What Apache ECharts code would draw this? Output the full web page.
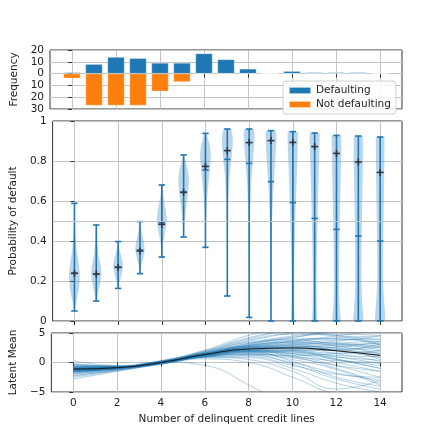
<!DOCTYPE html>
<html><head><meta charset="utf-8">
<script src="https://cdn.jsdelivr.net/npm/echarts@6/dist/echarts.min.js"></script>
<style>html,body{margin:0;padding:0;background:#fff}#c{width:440px;height:435px}</style>
</head><body><div id="c"></div>
<script>
// ---------- data ----------
const xTicks = [0, 2, 4, 6, 8, 10, 12, 14];
const barX = [0, 1, 2, 3, 4, 5, 6, 7, 8, 9, 10, 11, 12, 13, 14];
const defaulting = [1, 8, 14, 13, 9, 9, 17, 12, 4, 0, 2, 1, 1, 1, 0];
const notDefaulting = [4, 27, 27, 27, 15, 7, 0, 0, 0, 0, 0, 0, 0, 0, 0];

const violinX = [0, 1, 2, 3, 4, 5, 6, 7, 8, 9, 10, 11, 12, 13, 14];
const violinMin = [0.05, 0.10, 0.163, 0.237, 0.32, 0.42, 0.368, 0.125, 0.018, 0, 0, 0, 0, 0, 0];
const violinMax = [0.588, 0.48, 0.397, 0.497, 0.68, 0.83, 0.938, 0.96, 0.96, 0.952, 0.947, 0.94, 0.928, 0.925, 0.92];
const violinTick = [0.24, 0.235, 0.27, 0.355, 0.492, 0.645, 0.755, 0.808, 0.788, 0.697, 0.592, 0.513, 0.458, 0.425, 0.40];
const violinMean = [0.238, 0.235, 0.268, 0.35, 0.483, 0.643, 0.773, 0.852, 0.892, 0.902, 0.893, 0.872, 0.838, 0.795, 0.743];
// density profile of each violin: [probability, half-width in x units]
const violinProfiles = [
  [[0.05,0],[0.1,0.1],[0.15,0.19],[0.2,0.24],[0.24,0.25],[0.3,0.18],[0.35,0.11],[0.42,0.05],[0.5,0.02],[0.588,0]],
  [[0.10,0],[0.15,0.1],[0.2,0.2],[0.24,0.24],[0.28,0.2],[0.33,0.1],[0.4,0.04],[0.48,0]],
  [[0.163,0],[0.2,0.08],[0.24,0.18],[0.28,0.23],[0.31,0.18],[0.35,0.08],[0.397,0]],
  [[0.237,0],[0.28,0.06],[0.32,0.16],[0.36,0.22],[0.4,0.17],[0.44,0.08],[0.497,0]],
  [[0.32,0],[0.38,0.04],[0.44,0.14],[0.5,0.23],[0.55,0.19],[0.62,0.07],[0.68,0]],
  [[0.42,0],[0.5,0.05],[0.58,0.13],[0.65,0.21],[0.7,0.25],[0.75,0.2],[0.8,0.09],[0.83,0]],
  [[0.368,0],[0.5,0.02],[0.6,0.06],[0.7,0.15],[0.78,0.22],[0.83,0.25],[0.88,0.2],[0.92,0.1],[0.938,0.02]],
  [[0.125,0],[0.4,0.01],[0.6,0.04],[0.72,0.1],[0.8,0.18],[0.87,0.24],[0.92,0.25],[0.96,0.18]],
  [[0.018,0],[0.3,0.01],[0.55,0.04],[0.7,0.1],[0.8,0.17],[0.88,0.23],[0.93,0.25],[0.96,0.22]],
  [[0,0.01],[0.3,0.02],[0.5,0.05],[0.65,0.1],[0.78,0.18],[0.87,0.23],[0.93,0.25],[0.952,0.22]],
  [[0,0.08],[0.1,0.06],[0.25,0.06],[0.45,0.1],[0.6,0.14],[0.75,0.19],[0.88,0.23],[0.947,0.24]],
  [[0,0.12],[0.08,0.09],[0.2,0.08],[0.4,0.11],[0.6,0.15],[0.75,0.19],[0.87,0.22],[0.94,0.23]],
  [[0,0.2],[0.06,0.15],[0.15,0.11],[0.3,0.12],[0.5,0.15],[0.7,0.19],[0.85,0.22],[0.928,0.22]],
  [[0,0.24],[0.06,0.2],[0.15,0.15],[0.25,0.14],[0.4,0.15],[0.6,0.18],[0.8,0.21],[0.925,0.21]],
  [[0,0.24],[0.06,0.21],[0.15,0.15],[0.25,0.13],[0.4,0.14],[0.6,0.17],[0.8,0.19],[0.92,0.2]]
];

const latentX = [0, 2, 4, 6, 8, 10, 12, 14];
const latentMean = [-1.1, -0.9, 0.0, 1.35, 2.3, 2.45, 2.0, 1.2];
const latentSamples = [
  [-1.1,-0.9,0.0,1.3,2.4,2.8,2.5,2.0],
  [-0.8,-0.8,0.1,1.5,2.9,3.8,4.2,4.5],
  [-1.5,-1.0,-0.1,1.1,1.8,1.5,0.5,-0.5],
  [-1.3,-0.9,0.0,1.4,2.6,3.0,2.0,0.8],
  [-0.5,-0.7,0.1,1.6,3.3,4.5,5.2,5.8],
  [-1.8,-1.1,-0.2,0.9,1.2,0.0,-1.8,-3.0],
  [-1.0,-0.8,0.1,1.3,2.0,2.2,2.6,3.5],
  [-1.2,-0.9,0.0,1.2,2.2,2.6,3.0,3.2],
  [-2.2,-1.3,-0.2,1.0,1.5,0.8,-0.5,-1.5],
  [-0.2,-0.6,0.2,1.8,3.6,5.0,5.5,5.0],
  [-1.4,-1.0,0.0,1.3,2.0,1.2,-0.5,-2.5],
  [-0.9,-0.8,0.1,1.5,2.7,3.2,3.0,2.5],
  [-1.6,-1.0,-0.1,1.1,1.6,1.0,0.3,0.0],
  [-1.1,-0.9,0.0,1.4,2.8,3.5,3.3,2.8],
  [-0.7,-0.7,0.1,1.6,3.0,4.0,4.0,3.5],
  [-2.5,-1.4,-0.3,0.8,0.8,-1.0,-3.5,-5.0],
  [-1.3,-1.0,0.0,1.2,1.9,1.8,1.2,1.0],
  [-1.0,-0.8,0.0,1.4,2.5,2.5,1.5,0.2],
  [-0.6,-0.7,0.2,1.7,3.2,4.3,4.8,4.6],
  [-1.7,-1.1,-0.1,1.0,1.4,0.5,-1.2,-3.8],
  [-1.2,-0.9,0.0,1.3,2.3,2.6,2.2,1.5],
  [-0.9,-0.8,0.1,1.5,2.8,3.6,4.5,5.5],
  [-1.4,-1.0,-0.1,1.2,2.1,2.0,1.0,-0.2],
  [0.3,-0.5,0.3,2.0,4.2,5.5,6.0,6.0],
  [-2.0,-1.2,-0.2,1.0,1.7,1.6,0.9,0.4],
  [-1.1,-0.9,0.0,1.3,2.2,2.0,0.6,-1.0],
  [-0.8,-0.8,0.1,1.5,2.6,3.0,3.6,4.5],
  [-1.5,-1.0,-0.1,1.1,1.3,-0.3,-2.8,-4.5],
  [-1.0,-0.9,0.0,1.4,2.5,3.2,3.8,4.0],
  [-1.3,-0.9,0.0,1.2,2.0,2.5,2.8,2.2],
  [-0.4,-0.6,0.2,1.8,3.8,4.8,4.5,3.0],
  [-1.9,-1.2,-0.2,0.9,1.0,-0.5,-2.0,-2.5],
  [-1.2,-0.9,0.0,1.3,2.4,2.9,3.3,3.6],
  [-0.9,-0.8,0.1,1.4,2.4,2.2,1.6,1.8],
  [-1.6,-1.1,-0.1,1.1,1.8,2.0,2.2,2.6],
  [-1.0,-0.8,0.0,1.3,2.1,1.5,0.0,-1.5],
  [-2.8,-1.5,-0.3,0.6,0.0,-2.5,-5.5,-7.0],
  [-1.1,-0.9,0.0,1.5,2.9,3.4,2.8,1.5],
  [-0.6,-0.7,0.1,1.6,3.1,4.2,5.5,6.5],
  [-1.4,-1.0,0.0,1.2,2.0,1.8,0.5,-1.0],
  [-1.2,-0.9,0.1,-0.5,-3.8,-8.0,-12.0,-16.0],
  [-0.3,-0.6,0.3,2.1,4.6,6.0,6.5,6.0],
  [-0.9,-0.7,0.2,1.9,4.0,5.2,4.6,3.8],
  [-1.0,-0.8,0.1,1.7,3.4,3.8,3.2,2.7],
  [-1.5,-1.0,-0.1,1.2,1.9,1.0,-1.0,-3.5],
  [-1.2,-0.9,0.0,1.3,1.8,0.2,-2.5,-4.0],
  [-0.7,-0.7,0.1,1.5,2.7,2.4,2.0,3.2],
  [-1.3,-0.9,0.0,1.4,2.6,3.5,4.0,3.0],
  [-2.3,-1.3,-0.2,1.0,1.4,1.2,1.5,2.0],
  [-1.1,-0.8,0.0,1.3,2.3,2.7,2.4,0.5],
  [-1.6,-1.0,-0.1,1.0,0.5,-1.5,-4.5,-3.0]
];

// ---------- styling ----------
const FONT = 'DejaVu Sans';
const TXT = '#222';
const GRIDC = '#c4c4c4';
const BLUE = '#1f77b4';
const ORANGE = '#ff7f0e';
const FS = 10.5;

function xAxisDef(idx, withLabels) {
  return {
    type: 'value', gridIndex: idx, min: -1, max: 15,
    axisLine: { show: false },
    axisTick: { show: true, length: 4, customValues: xTicks, lineStyle: { color: '#333' } },
    axisLabel: withLabels ? { show: true, customValues: xTicks, fontFamily: FONT, fontSize: FS, color: TXT, margin: 6 } : { show: false },
    splitLine: { show: true, lineStyle: { color: GRIDC, width: 1 } },
    name: withLabels ? 'Number of delinquent credit lines' : '',
    nameLocation: 'middle', nameGap: 22,
    nameTextStyle: { fontFamily: FONT, fontSize: FS, color: TXT }
  };
}
function yAxisDef(idx, min, max, interval, name, fmt) {
  return {
    type: 'value', gridIndex: idx, min: min, max: max, interval: interval,
    axisLine: { show: false },
    axisTick: { show: true, length: 4, lineStyle: { color: '#333' } },
    axisLabel: { fontFamily: FONT, fontSize: FS, color: TXT, margin: 6, formatter: fmt },
    splitLine: { show: true, lineStyle: { color: GRIDC, width: 1 } },
    name: name, nameLocation: 'middle', nameGap: 26,
    nameTextStyle: { fontFamily: FONT, fontSize: FS, color: TXT }
  };
}
const gridBase = { show: true, borderColor: '#333', borderWidth: 1, backgroundColor: 'transparent', left: 50, width: 352 };

const series = [];
series.push({
  name: 'Defaulting', type: 'bar', xAxisIndex: 0, yAxisIndex: 0,
  data: barX.map((x, i) => [x, defaulting[i]]),
  barWidth: 17, barGap: '-100%',
  itemStyle: { color: BLUE, borderColor: 'rgba(255,255,255,0.6)', borderWidth: 0.5 }, z: 3
});
series.push({
  name: 'Not defaulting', type: 'bar', xAxisIndex: 0, yAxisIndex: 0,
  data: barX.map((x, i) => [x, -notDefaulting[i]]),
  barWidth: 17, barGap: '-100%',
  itemStyle: { color: ORANGE, borderColor: 'rgba(255,255,255,0.6)', borderWidth: 0.5 }, z: 3
});

series.push({
  type: 'custom', xAxisIndex: 1, yAxisIndex: 1, silent: true, z: 3,
  data: violinX.map((x, i) => [x, violinMin[i], violinMax[i], violinTick[i], violinMean[i]]),
  renderItem: function (params, api) {
    const i = params.dataIndex;
    const x = api.value(0);
    const prof = violinProfiles[i];
    const left = prof.map(p => api.coord([x - p[1], p[0]]));
    const right = prof.slice().reverse().map(p => api.coord([x + p[1], p[0]]));
    const pts = left.concat(right);
    const cMin = api.coord([x, api.value(1)]);
    const cMax = api.coord([x, api.value(2)]);
    const cTick = api.coord([x, api.value(3)]);
    const cMean = api.coord([x, api.value(4)]);
    const cw = 3.2;
    const ls = { stroke: BLUE, lineWidth: 1.6 };
    const ms = { stroke: '#2a3a4c', lineWidth: 1.6 };
    return {
      type: 'group',
      children: [
        { type: 'polygon', shape: { points: pts }, style: { fill: 'rgba(31,119,180,0.3)', stroke: 'none' } },
        { type: 'line', shape: { x1: cMin[0], y1: cMin[1], x2: cMax[0], y2: cMax[1] }, style: ls },
        { type: 'line', shape: { x1: cMin[0] - cw, y1: cMin[1], x2: cMin[0] + cw, y2: cMin[1] }, style: ls },
        { type: 'line', shape: { x1: cMax[0] - cw, y1: cMax[1], x2: cMax[0] + cw, y2: cMax[1] }, style: ls },
        { type: 'line', shape: { x1: cTick[0] - cw, y1: cTick[1], x2: cTick[0] + cw, y2: cTick[1] }, style: ls },
        { type: 'line', shape: { x1: cMean[0] - 3.5, y1: cMean[1], x2: cMean[0] + 3.5, y2: cMean[1] }, style: ms },
        { type: 'line', shape: { x1: cMean[0], y1: cMean[1] - 3.5, x2: cMean[0], y2: cMean[1] + 3.5 }, style: ms }
      ]
    };
  }
});
series.push({
  type: 'line', xAxisIndex: 1, yAxisIndex: 1, data: [], silent: true,
  markLine: { silent: true, symbol: 'none', label: { show: false },
    lineStyle: { color: GRIDC, type: 'solid', width: 1 }, data: [{ yAxis: 0.5 }] }, z: 1
});

latentSamples.forEach(s => {
  series.push({
    type: 'line', xAxisIndex: 2, yAxisIndex: 2, silent: true, smooth: 0.5, showSymbol: false, symbol: 'none',
    data: latentX.map((x, j) => [x, s[j]]),
    lineStyle: { color: 'rgba(31,119,180,0.38)', width: 0.9 }, z: 2
  });
});
series.push({
  type: 'line', xAxisIndex: 2, yAxisIndex: 2, silent: true, smooth: 0.5, showSymbol: false, symbol: 'none',
  data: latentX.map((x, j) => [x, latentMean[j]]),
  lineStyle: { color: '#1a1a1a', width: 1.1 }, z: 4
});

const option = {
  animation: false,
  backgroundColor: '#fff',
  textStyle: { fontFamily: FONT },
  legend: {
    data: ['Defaulting', 'Not defaulting'], orient: 'vertical',
    left: 283, top: 81, icon: 'rect', itemWidth: 22, itemHeight: 7, itemGap: 3,
    padding: [4, 5, 4, 5], backgroundColor: 'rgba(255,255,255,0.85)',
    borderColor: '#d0d0d0', borderWidth: 1, borderRadius: 3,
    textStyle: { fontFamily: FONT, fontSize: FS, color: TXT }, z: 10
  },
  grid: [
    Object.assign({ top: 50, height: 59 }, gridBase),
    Object.assign({ top: 121, height: 200 }, gridBase),
    Object.assign({ top: 333, height: 59 }, gridBase)
  ],
  xAxis: [xAxisDef(0, false), xAxisDef(1, false), xAxisDef(2, true)],
  yAxis: [
    yAxisDef(0, -30, 20, 10, 'Frequency', v => String(Math.abs(v))),
    yAxisDef(1, 0, 1, 0.2, 'Probability of default', v => String(+v.toFixed(1))),
    yAxisDef(2, -5, 5, 5, 'Latent Mean', v => (v < 0 ? '\u2212' + Math.abs(v) : String(v)))
  ],
  series: series
};
const chart = echarts.init(document.getElementById('c'), null, { renderer: 'canvas' });
chart.setOption(option);
</script></body></html>
